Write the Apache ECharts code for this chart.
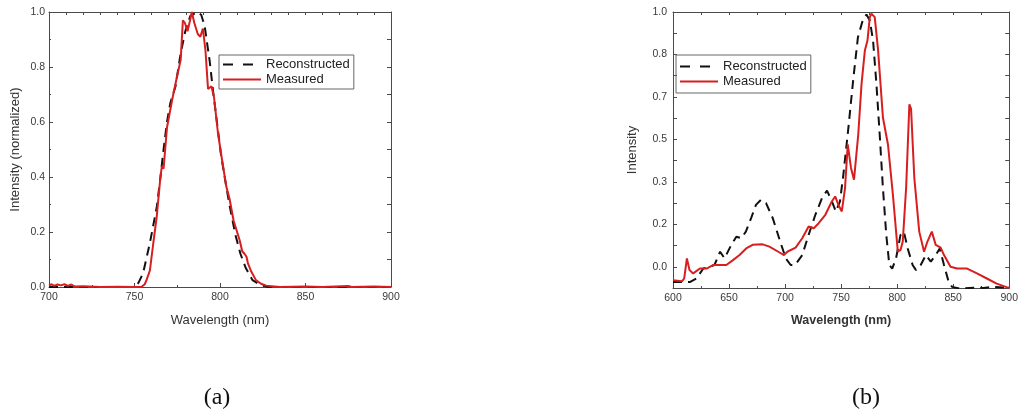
<!DOCTYPE html>
<html>
<head>
<meta charset="utf-8">
<script src="https://cdn.jsdelivr.net/npm/echarts@6/dist/echarts.min.js"></script>
<style>
  html, body { margin: 0; padding: 0; background: #fff; }
  #chart { width: 1021px; height: 413px; }
</style>
</head>
<body>
<div id="chart"></div>
<script>
// ---- Panel (a): normalized spectrum, 700–900 nm ----
const aRecWl  = [700, 720, 750, 752.3, 755, 759, 763, 765, 767, 769, 771, 774, 777, 779.7, 782.6, 786.5, 789, 791, 794, 796, 798, 800.6, 803, 805.5, 809, 812, 815, 819, 823, 828, 900];
const aRecVal = [0, 0, 0, 0.015, 0.05, 0.16, 0.29, 0.39, 0.5, 0.6, 0.67, 0.73, 0.85, 0.93, 0.985, 1.0, 0.99, 0.95, 0.82, 0.71, 0.61, 0.48, 0.39, 0.3, 0.19, 0.12, 0.07, 0.025, 0.01, 0, 0];

const aMeasWl  = [700, 701.5, 703, 705, 707, 709, 711, 713, 715, 720, 730, 740, 750, 754, 756, 757, 758, 759, 761, 763, 765, 766, 767, 769, 772, 775, 777, 778.3, 779.5, 781, 782.5, 783.5, 785, 787, 788.5, 790, 791.5, 793, 795, 796.5, 798.8, 801, 803.7, 805.6, 808, 811.5, 813, 814.4, 815.5, 816.3, 818, 821, 824, 827, 835, 850, 860, 875, 877, 890, 900];
const aMeasVal = [0.005, 0.01, 0.004, 0.009, 0.006, 0.01, 0.004, 0.009, 0.002, 0.003, 0, 0.001, 0, 0, 0.01, 0.025, 0.03, 0.06, 0.16, 0.256, 0.39, 0.44, 0.43, 0.58, 0.68, 0.77, 0.825, 0.97, 0.96, 0.93, 0.97, 1.0, 0.96, 0.92, 0.91, 0.94, 0.86, 0.72, 0.73, 0.69, 0.56, 0.47, 0.365, 0.32, 0.24, 0.17, 0.13, 0.12, 0.11, 0.087, 0.06, 0.025, 0.012, 0.005, 0, 0.002, 0, 0.004, 0, 0.002, 0];

// ---- Panel (b): spectrum, 600–900 nm ----
const bRecWl  = [600, 606.5, 615, 621, 627, 633, 637, 642, 646, 652, 656.5, 661, 665, 669.7, 674, 678.5, 683, 689, 694.7, 700.6, 705, 709, 715.3, 721, 727, 733, 737.4, 741.8, 745.3, 749, 752, 756.5, 761, 765, 769.7, 772.6, 775.6, 778.5, 781.5, 784.4, 787.3, 790.3, 793, 795.6, 799, 803, 806, 809.4, 813.8, 816.8, 821, 825.6, 830, 834.4, 838, 841.8, 846, 849, 856.5, 868, 877, 886, 900];
const bRecVal = [-0.06, -0.06, -0.06, -0.046, -0.007, 0, 0.007, 0.059, 0.033, 0.086, 0.118, 0.112, 0.138, 0.191, 0.243, 0.263, 0.25, 0.191, 0.112, 0.033, 0.007, 0.007, 0.046, 0.125, 0.204, 0.27, 0.299, 0.257, 0.217, 0.257, 0.362, 0.546, 0.743, 0.901, 0.974, 0.99, 0.967, 0.888, 0.717, 0.52, 0.309, 0.125, 0.007, -0.007, 0.033, 0.125, 0.138, 0.072, 0.007, -0.013, 0.007, 0.046, 0.02, 0.046, 0.072, 0.007, -0.06, -0.079, -0.086, -0.082, -0.083, -0.079, -0.082];

const bMeasWl  = [600, 608, 610, 612.4, 614.7, 618, 624, 630, 636, 642, 647.6, 653.5, 659.4, 665.3, 671, 680, 686, 694.7, 699, 702, 709.4, 715.3, 721, 725.6, 730, 735.9, 741.8, 744.7, 747.6, 750.6, 752, 753.5, 755.9, 758.8, 761.5, 765.3, 768.2, 771.2, 773.5, 775.6, 777, 780, 783, 787.3, 791.8, 796.2, 800.6, 803, 805, 808, 810.9, 812.4, 815.3, 819.7, 824, 827, 830.9, 834.4, 838.8, 841.8, 847.6, 853.5, 862.4, 871.2, 880, 888.8, 897.6, 900];
const bMeasVal = [-0.053, -0.057, -0.046, 0.033, -0.013, -0.026, -0.007, -0.007, 0.007, 0.007, 0.007, 0.026, 0.046, 0.072, 0.086, 0.088, 0.079, 0.057, 0.046, 0.059, 0.075, 0.112, 0.158, 0.151, 0.171, 0.204, 0.257, 0.276, 0.243, 0.217, 0.21, 0.309, 0.48, 0.388, 0.342, 0.52, 0.717, 0.849, 0.888, 0.98, 0.993, 0.98, 0.849, 0.586, 0.48, 0.283, 0.059, 0.066, 0.099, 0.31, 0.638, 0.62, 0.349, 0.138, 0.059, 0.099, 0.138, 0.086, 0.075, 0.046, 0, -0.007, -0.007, -0.026, -0.046, -0.066, -0.08, -0.082];

// Tick labels printed on the (b) intensity axis, one per sixth of full scale
const bYTickLabels = ['0.0', '0.2', '0.3', '0.5', '0.7', '0.8', '1.0'];

const zip = (xs, ys) => xs.map((x, i) => [x, ys[i]]);

const AXIS_COLOR = '#4a4a4a';
const LABEL_COLOR = '#3a3a3a';
const SANS = 'Liberation Sans, Arial, sans-serif';
const RED = '#d81e1e';
const BLACK = '#111111';

function frameAxis(extra) {
  return Object.assign({
    type: 'value',
    axisLine: { show: true, onZero: false, lineStyle: { color: AXIS_COLOR, width: 1 } },
    axisTick: { show: true, inside: true, length: 4, lineStyle: { color: AXIS_COLOR } },
    axisLabel: { show: false },
    splitLine: { show: false }
  }, extra);
}

// Boxed legend with plain line samples (no point markers)
function boxedLegend(left, padding) {
  return {
    orient: 'vertical', left: left, top: 55, padding: padding, itemGap: 2,
    itemWidth: 38, itemHeight: 14, borderColor: '#666', borderWidth: 1,
    itemStyle: { opacity: 0 },
    textStyle: { fontSize: 13, color: '#222', fontFamily: SANS },
    data: [
      { name: 'Reconstructed', lineStyle: { type: [10, 10] } },
      { name: 'Measured' }
    ],
    selectedMode: false
  };
}

const option = {
  animation: false,
  backgroundColor: '#fff',
  grid: [
    { left: 49, top: 12, width: 342, height: 275 },
    { left: 673, top: 12, width: 340, height: 276 }
  ],
  xAxis: [
    frameAxis({
      gridIndex: 0, position: 'bottom', min: 700, max: 900, interval: 50,
      minorTick: { show: true, splitNumber: 2, length: 2, lineStyle: { color: AXIS_COLOR } },
      axisLabel: { show: true, margin: 5, fontSize: 10.5, color: LABEL_COLOR, fontFamily: SANS },
      name: 'Wavelength (nm)', nameLocation: 'middle', nameGap: 27,
      nameTextStyle: { fontSize: 13, color: '#333', fontFamily: SANS }
    }),
    frameAxis({ gridIndex: 0, position: 'top', min: 700, max: 900, interval: 10, axisTick: { show: true, inside: true, length: 3, lineStyle: { color: AXIS_COLOR } } }),
    frameAxis({
      gridIndex: 1, position: 'bottom', min: 600, max: 900, interval: 50,
      minorTick: { show: true, splitNumber: 2, length: 2, lineStyle: { color: AXIS_COLOR } },
      axisLabel: { show: true, margin: 5, fontSize: 10.5, color: LABEL_COLOR, fontFamily: SANS },
      name: 'Wavelength (nm)', nameLocation: 'middle', nameGap: 26,
      nameTextStyle: { fontSize: 12.5, fontWeight: 'bold', color: '#333', fontFamily: SANS }
    }),
    frameAxis({ gridIndex: 1, position: 'top', min: 600, max: 900, interval: 25, axisTick: { show: true, inside: true, length: 3, lineStyle: { color: AXIS_COLOR } } })
  ],
  yAxis: [
    frameAxis({
      gridIndex: 0, position: 'left', min: 0, max: 1, interval: 0.2,
      minorTick: { show: true, splitNumber: 2, length: 2, lineStyle: { color: AXIS_COLOR } },
      axisLabel: { show: true, margin: 4, fontSize: 10.5, color: LABEL_COLOR, fontFamily: SANS, formatter: v => v.toFixed(1) },
      name: 'Intensity (normalized)', nameLocation: 'middle', nameGap: 27,
      nameTextStyle: { fontSize: 13, color: '#333', fontFamily: SANS }
    }),
    frameAxis({ gridIndex: 0, position: 'right', min: 0, max: 1, interval: 0.1 }),
    frameAxis({
      gridIndex: 1, position: 'left', min: -1 / 12, max: 1, interval: 1 / 12,
      axisLabel: {
        show: true, margin: 6, fontSize: 10.5, color: LABEL_COLOR, fontFamily: SANS,
        formatter: v => {
          const k = Math.round(v * 12);
          return (k >= 0 && k % 2 === 0) ? bYTickLabels[k / 2] : '';
        }
      },
      name: 'Intensity', nameLocation: 'middle', nameGap: 34,
      nameTextStyle: { fontSize: 13, color: '#333', fontFamily: SANS }
    }),
    frameAxis({ gridIndex: 1, position: 'right', min: -1 / 12, max: 1, interval: 1 / 12 })
  ],
  legend: [
    boxedLegend(219, [3, 4, 3, 3]),
    boxedLegend(676, [5, 4, 5, 3])
  ],
  series: [
    {
      name: 'Reconstructed', type: 'line', xAxisIndex: 0, yAxisIndex: 0,
      data: zip(aRecWl, aRecVal), symbol: 'none', clip: true,
      lineStyle: { color: BLACK, width: 2, type: [9, 6] }, itemStyle: { color: BLACK }
    },
    {
      name: 'Measured', type: 'line', xAxisIndex: 0, yAxisIndex: 0,
      data: zip(aMeasWl, aMeasVal), symbol: 'none', clip: true,
      lineStyle: { color: RED, width: 2 }, itemStyle: { color: RED }
    },
    {
      name: 'Reconstructed', type: 'line', xAxisIndex: 2, yAxisIndex: 2,
      data: zip(bRecWl, bRecVal), symbol: 'none', clip: true,
      lineStyle: { color: BLACK, width: 2, type: [9, 6] }, itemStyle: { color: BLACK }
    },
    {
      name: 'Measured', type: 'line', xAxisIndex: 2, yAxisIndex: 2,
      data: zip(bMeasWl, bMeasVal), symbol: 'none', clip: true,
      lineStyle: { color: RED, width: 2 }, itemStyle: { color: RED }
    }
  ],
  graphic: [
    { type: 'text', x: 217, y: 398, style: { text: '(a)', fontSize: 24, fontFamily: 'Liberation Serif, serif', fill: '#111', align: 'center', verticalAlign: 'middle' } },
    { type: 'text', x: 866, y: 398, style: { text: '(b)', fontSize: 24, fontFamily: 'Liberation Serif, serif', fill: '#111', align: 'center', verticalAlign: 'middle' } }
  ]
};

const chart = echarts.init(document.getElementById('chart'), null, { renderer: 'canvas' });
chart.setOption(option);
</script>
</body>
</html>
